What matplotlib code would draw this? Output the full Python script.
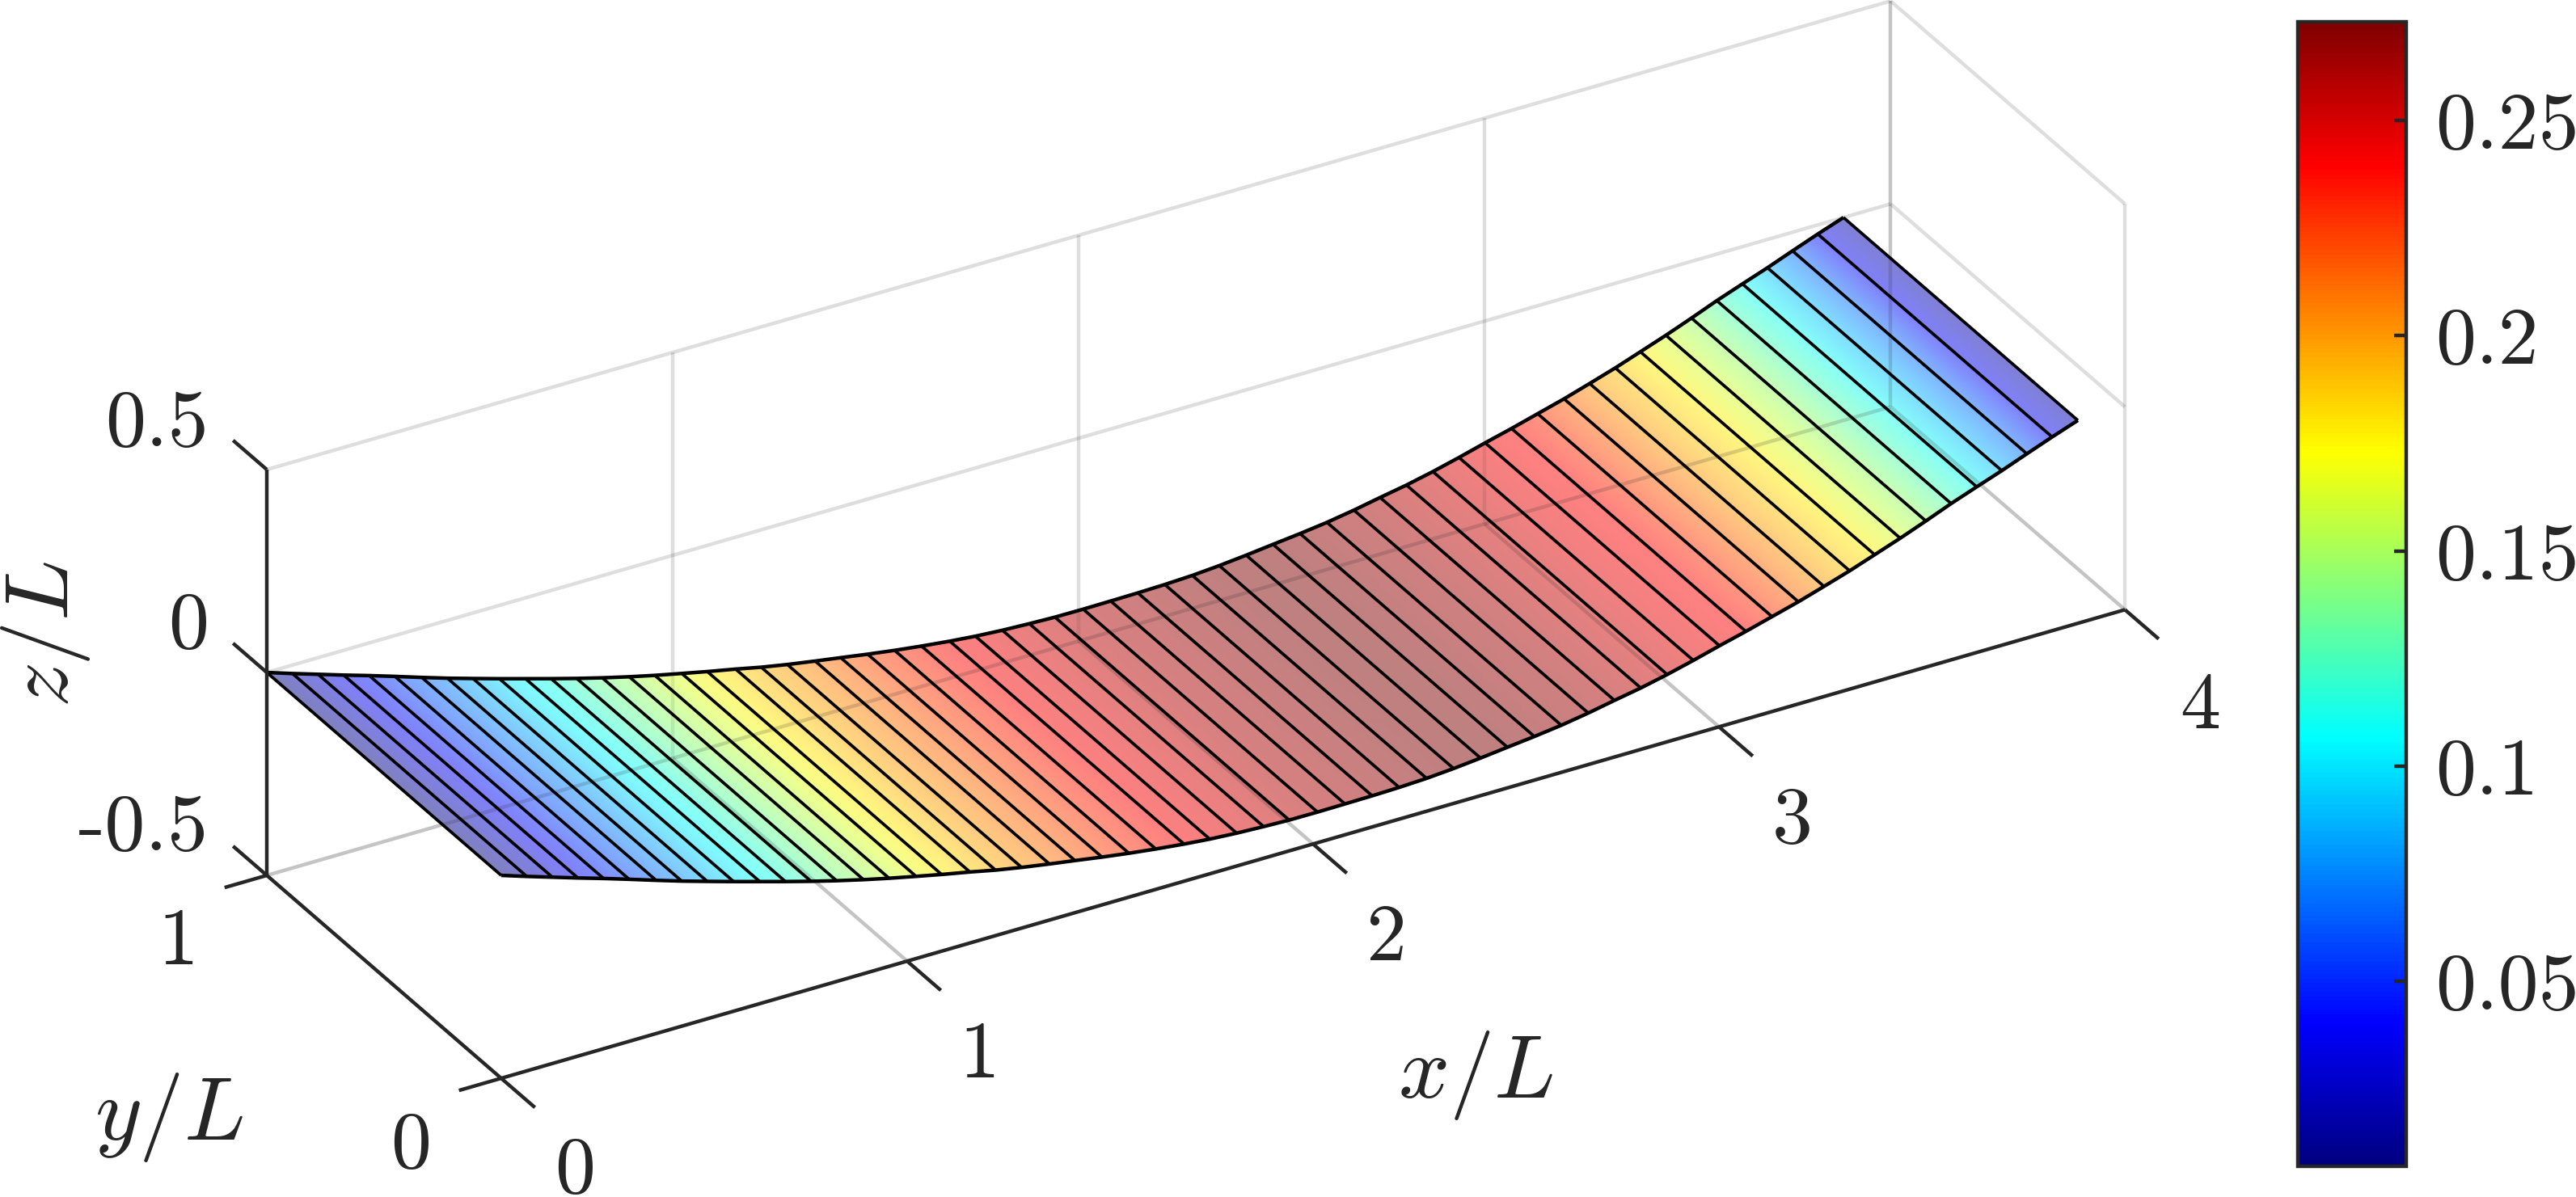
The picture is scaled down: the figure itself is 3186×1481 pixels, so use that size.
import matplotlib
matplotlib.use("Agg")
import numpy as np
import matplotlib.pyplot as plt
from matplotlib.cm import ScalarMappable
from matplotlib.colors import LinearSegmentedColormap, ListedColormap, Normalize
from matplotlib.patches import Polygon
from mpl_toolkits.mplot3d import proj3d

plt.rcParams["mathtext.fontset"] = "cm"

W, H = 3186, 1481
INK = "#262626"
FS = 72
LABEL_FS = 80

# mesh stations along the sheet
x_stations = [0.0000, 0.0631, 0.1262, 0.1891, 0.2523, 0.3154, 0.3817, 0.4448, 0.5077, 0.5728,
              0.6371, 0.7003, 0.7634, 0.8263, 0.8928, 0.9557, 1.0222, 1.0851, 1.1548, 1.2179,
              1.2822, 1.3507, 1.4137, 1.4801, 1.5464, 1.6127, 1.6824, 1.7456, 1.8119, 1.8784,
              1.9413, 2.0110, 2.0787, 2.1457, 2.2121, 2.2798, 2.3463, 2.4126, 2.4788, 2.5453,
              2.6116, 2.6780, 2.7425, 2.8074, 2.8725, 2.9368, 3.0013, 3.0662, 3.1307, 3.1956,
              3.2587, 3.3219, 3.3836, 3.4465, 3.5096, 3.5719, 3.6350, 3.6967, 3.7584, 3.8207,
              3.8840]
z_stations = [0.0000, -0.0208, -0.0409, -0.0610, -0.0805, -0.1007, -0.1224, -0.1425, -0.1614, -0.1807,
              -0.1992, -0.2174, -0.2350, -0.2517, -0.2683, -0.2830, -0.2975, -0.3110, -0.3250, -0.3386,
              -0.3505, -0.3618, -0.3716, -0.3822, -0.3919, -0.4005, -0.4085, -0.4145, -0.4190, -0.4220,
              -0.4241, -0.4245, -0.4240, -0.4233, -0.4218, -0.4190, -0.4140, -0.4074, -0.3998, -0.3925,
              -0.3840, -0.3730, -0.3605, -0.3486, -0.3342, -0.3180, -0.3005, -0.2839, -0.2661, -0.2482,
              -0.2286, -0.2084, -0.1865, -0.1640, -0.1398, -0.1148, -0.0918, -0.0698, -0.0460, -0.0225,
              0.0000]
c_stations = [0.0071, 0.0177, 0.0284, 0.0377, 0.0470, 0.0576, 0.0669, 0.0762, 0.0868, 0.0975,
              0.1068, 0.1161, 0.1267, 0.1373, 0.1480, 0.1573, 0.1679, 0.1772, 0.1852, 0.1932,
              0.2011, 0.2078, 0.2144, 0.2211, 0.2277, 0.2344, 0.2397, 0.2437, 0.2477, 0.2516,
              0.2556, 0.2596, 0.2623, 0.2649, 0.2676, 0.2702, 0.2716, 0.2729, 0.2716, 0.2689,
              0.2663, 0.2636, 0.2596, 0.2556, 0.2516, 0.2463, 0.2423, 0.2383, 0.2277, 0.2144,
              0.2011, 0.1878, 0.1772, 0.1613, 0.1453, 0.1267, 0.1108, 0.0895, 0.0682, 0.0390,
              0.0177]
y_edges = [0, 1]
c_limits = [0.0071, 0.2729]

x_ticks = [0, 1, 2, 3, 4]
y_ticks = [0, 1]
z_ticks = [-0.5, 0, 0.5]
cbar_ticks = [0.05, 0.1, 0.15, 0.2, 0.25]
cbar_labels = ["0.05", "0.1", "0.15", "0.2", "0.25"]

# matlab style jet, and the same thing seen through 50% transparency on white
jet = LinearSegmentedColormap.from_list(
    "mjet",
    [(0, (0, 0, 0.5)), (1 / 8, (0, 0, 1)), (3 / 8, (0, 1, 1)),
     (5 / 8, (1, 1, 0)), (7 / 8, (1, 0, 0)), (1, (0.5, 0, 0))], N=256)
jet_pale = ListedColormap(0.5 * jet(np.arange(256)) + 0.5)


def fig_xy(px, py):
    return px / W, 1 - py / H


fig = plt.figure(figsize=(W / 100, H / 100), dpi=100)
ax = fig.add_axes([0.1, 0.1, 0.6, 0.6 * W / H], projection="3d", proj_type="ortho")
ax.computed_zorder = False
ax.set_xlim(0, 4)
ax.set_ylim(0, 1)
ax.set_zlim(-0.5, 0.5)
ax.set_box_aspect((4, 1, 1))
ax.view_init(elev=30, azim=-120)
ax.set_axis_off()
ax.patch.set_alpha(0)


def to_pixels(x, y, z):
    ax.apply_aspect()
    xv, yv, _ = proj3d.proj_transform(x, y, z, ax.get_proj())
    return ax.transData.transform((xv, yv))


# slide and scale the square 3d axes so the box lands on the reference corners
a = to_pixels(0, 1, 0.5)
b = to_pixels(4, 0, -0.5)
want_a = np.array([330, H - 581])
want_b = np.array([2628, H - 756])
gain = np.linalg.norm(want_b - want_a) / np.linalg.norm(b - a)
pos = ax.get_position()
side = pos.width * W * gain
ax.set_position([pos.x0, pos.y0, side / W, side / H])
shift = want_a - to_pixels(0, 1, 0.5)
pos = ax.get_position()
ax.set_position([pos.x0 + shift[0] / W, pos.y0 + shift[1] / H, pos.width, pos.height])


def line3(xs, ys, zs, color=INK, lw=3.2, alpha=1.0, zorder=5):
    lines = ax.plot(xs, ys, zs, color=color, lw=lw, alpha=alpha, zorder=zorder,
                    solid_capstyle="butt", clip_on=False)
    return lines[0]


# grid on the back walls and the floor: (xs, ys, zs, alpha)
grid = []
for xt in x_ticks[1:]:
    grid.append(([xt, xt], [1, 1], [-0.5, 0.5], 0.27 if xt == 4 else 0.15))
    grid.append(([xt, xt], [0, 1], [-0.5, -0.5], 0.27))
for zt in z_ticks:
    grid.append(([0, 4], [1, 1], [zt, zt], 0.27 if zt == -0.5 else 0.15))
    if zt != -0.5:
        grid.append(([4, 4], [0, 1], [zt, zt], 0.15))
grid.append(([4, 4], [0, 0], [-0.5, 0.5], 0.15))

for xs, ys, zs, al in grid:
    line3(xs, ys, zs, lw=3.2, alpha=al, zorder=1)

# sheet, shaded smoothly between stations
X, Y = np.meshgrid(x_stations, y_edges)
Z = np.vstack([z_stations, z_stations])
C = np.vstack([c_stations, c_stations])
Xv, Yv, _ = proj3d.proj_transform(X.ravel(), Y.ravel(), Z.ravel(), ax.get_proj())
Xv = Xv.reshape(X.shape)
Yv = Yv.reshape(X.shape)
sheet = ax.pcolormesh(Xv, Yv, C, shading="gouraud", cmap=jet_pale,
                      vmin=c_limits[0], vmax=c_limits[1], zorder=2)
sheet.set_clip_on(False)
sheet.do_3d_projection = lambda: 0  # already projected, Axes3D.draw still asks

# the grid still shows through the sheet
outline = Polygon(np.column_stack([np.r_[Xv[0], Xv[1][::-1]], np.r_[Yv[0], Yv[1][::-1]]]),
                  transform=ax.transData)
for xs, ys, zs, al in grid:
    through = line3(xs, ys, zs, lw=3.2, alpha=al * 0.65, zorder=2.5)
    through.set_clip_on(True)
    through.set_clip_path(outline)

for xs, zs in zip(x_stations, z_stations):
    line3([xs, xs], y_edges, [zs, zs], color="black", lw=2.7, zorder=3)
for ye in y_edges:
    line3(x_stations, [ye] * len(x_stations), z_stations, color="black", lw=3.2, zorder=3)

# box axes and tick marks
line3([0, 0], [1, 1], [-0.5, 0.5])
line3([0, 4], [0, 0], [-0.5, -0.5])
line3([0, 0], [0, 1], [-0.5, -0.5])
for zt in z_ticks:
    line3([0, 0], [1, 1.144], [zt, zt])
for yt in y_ticks:
    line3([0, -0.104], [yt, yt], [-0.5, -0.5])
for xt in x_ticks:
    line3([xt, xt], [0, -0.144], [-0.5, -0.5])

# tick and axis labels
text_kw = dict(fontsize=FS, color=INK, va="center", family="cmr10")
for label, py in zip(["0.5", "0", "-0.5"], [527, 777, 1027]):
    fig.text(*fig_xy(258, py), label, ha="right", **text_kw)
for label, px, py in zip(["1", "0"], [220, 508], [1168, 1420]):
    fig.text(*fig_xy(px, py), label, ha="center", **text_kw)
for label, px, py in zip(["0", "1", "2", "3", "4"],
                         [711, 1211, 1715, 2217, 2721], [1451, 1308, 1163, 1018, 876]):
    fig.text(*fig_xy(px, py), label, ha="center", **text_kw)
math_kw = dict(fontsize=LABEL_FS, color=INK, va="center", ha="center")
fig.text(*fig_xy(1825, 1331), "$x/L$", **math_kw)
fig.text(*fig_xy(209, 1382), "$y/L$", **math_kw)
fig.text(*fig_xy(56, 785), "$z/L$", rotation=90, **math_kw)

# colorbar
cax = fig.add_axes([2842 / W, 1 - 1443 / H, (2976 - 2842) / W, (1443 - 27) / H])
cbar = fig.colorbar(ScalarMappable(Normalize(*c_limits), jet), cax=cax, ticks=cbar_ticks)
cbar.ax.set_yticklabels(cbar_labels)
cbar.ax.tick_params(direction="in", length=11, width=3.2, color=INK, labelcolor=INK,
                    labelsize=FS, labelfontfamily="cmr10", pad=26, right=True)
cbar.outline.set_edgecolor(INK)
cbar.outline.set_linewidth(3.2)

fig.savefig("out.png", dpi=100)
